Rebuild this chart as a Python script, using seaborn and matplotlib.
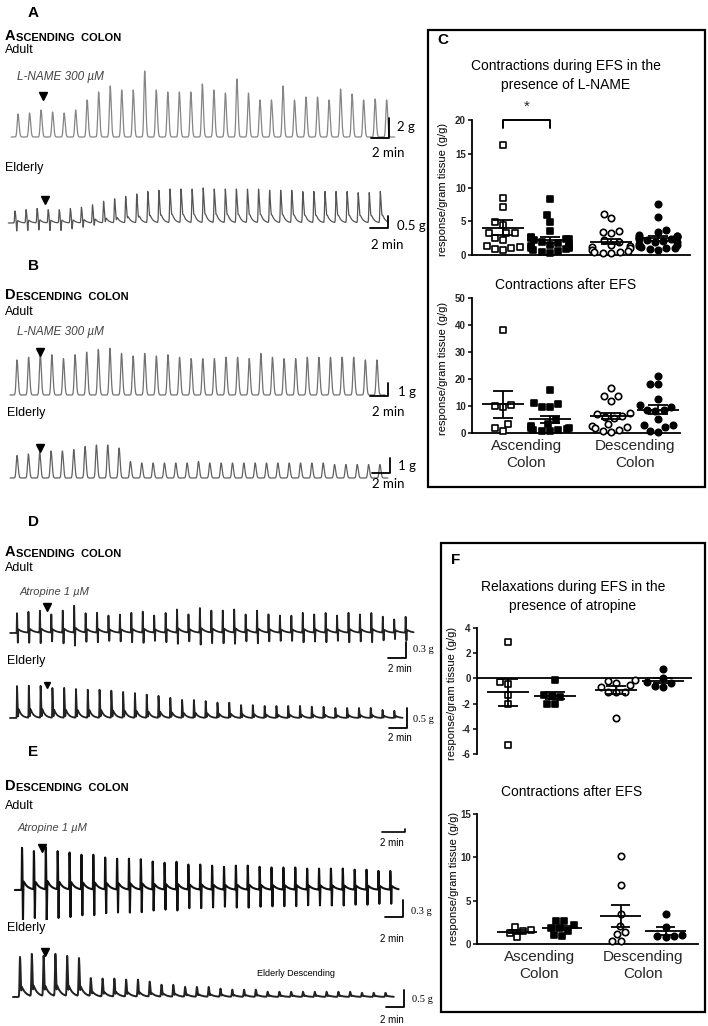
import numpy as np
import pandas as pd
import seaborn as sns
import matplotlib.pyplot as plt
from matplotlib.patches import Rectangle
from matplotlib.text import Annotation

W, H = 708, 1026
PPM = 9.0  # pixels per minute on every recording

# ---- panel C and F: response/gram tissue (g/g) ----
# order: ascending adult, ascending elderly, descending adult, descending elderly
lname_during = [
    [16.3, 8.5, 7.1, 4.9, 4.4, 3.3, 3.3, 3.3, 2.5, 2.2, 1.3, 1.2, 1.0, 0.9, 0.7],
    [8.3, 6.0, 4.9, 3.5, 2.6, 2.5, 2.4, 2.3, 2.2, 2.0, 1.8, 1.6, 1.5, 1.4, 1.2,
     1.1, 1.0, 0.9, 0.8, 0.6, 0.5, 0.3],
    [6.1, 5.5, 3.5, 3.4, 3.3, 2.2, 2.0, 1.5, 1.3, 1.2, 1.0, 0.8, 0.6, 0.5, 0.4, 0.3, 0.3],
    [7.5, 5.6, 3.7, 3.4, 2.9, 2.8, 2.8, 2.7, 2.6, 2.5, 2.4, 2.3, 2.2, 2.1, 2.0,
     1.9, 1.7, 1.5, 1.3, 1.2, 1.1, 1.0, 0.9, 0.8],
]
lname_after = [
    [38.1, 10.4, 10.0, 9.5, 3.3, 1.7, 0.9],
    [15.9, 11.0, 10.6, 9.8, 9.6, 4.8, 3.5, 2.5, 2.0, 1.8, 1.5, 1.2, 1.0, 0.8, 0.6],
    [16.5, 13.8, 13.6, 12.0, 7.3, 7.0, 6.4, 6.0, 5.4, 3.3, 2.6, 2.3, 2.0, 1.1, 0.8, 0.5],
    [21.1, 18.3, 18.1, 12.5, 10.2, 9.8, 8.6, 8.4, 8.0, 5.2, 3.0, 2.9, 2.1, 0.7, 0.5],
]
atropine_during = [
    [2.85, -0.3, -0.45, -1.35, -2.0, -5.3],
    [-0.1, -1.3, -1.4, -1.5, -2.0, -2.0],
    [-0.15, -0.2, -0.35, -0.55, -0.65, -1.05, -1.05, -1.1, -3.15],
    [0.75, 0.05, -0.3, -0.35, -0.6, -0.65],
]
atropine_after = [
    [2.0, 1.6, 1.5, 1.3, 0.8],
    [2.7, 2.6, 2.2, 1.9, 1.8, 1.5, 1.0, 0.9],
    [10.2, 6.8, 3.5, 2.1, 1.4, 1.2, 0.4, 0.35],
    [3.45, 2.0, 1.0, 0.95, 0.9, 0.8],
]
group_markers = ['s', 's', 'o', 'o']
group_filled = [False, True, False, True]
xtick_labels = ['Ascending\nColon', 'Descending\nColon']

# ---- recordings: amplitude (g) of each contraction ----
a_adult_peaks = [2.3, 2.4, 2.7, 2.5, 2.4, 2.7, 3.7, 4.5, 5.1, 4.7, 4.7, 6.6, 4.7, 4.5, 4.5,
                 4.5, 5.3, 4.7, 4.4, 5.8, 4.4, 3.7, 3.7, 5.1, 3.7, 4.0, 4.0, 3.7, 4.8, 4.3,
                 3.7, 3.8, 3.7]
a_elderly_peaks = [0.5, 0.55, 0.6, 0.55, 0.55, 0.6, 0.65, 0.75, 0.9, 1.0, 1.1, 1.2, 1.3, 1.35,
                   1.4, 1.4, 1.4, 1.45, 1.4, 1.4, 1.4, 1.4, 1.4, 1.35, 1.35, 1.35, 1.3, 1.3,
                   1.3, 1.3, 1.3, 1.25, 1.25, 1.3]
a_elderly_dips = [0.5, 0.5, 0.5, 0.5, 0.5, 0.45, 0.4, 0.35, 0.25, 0.2, 0.15, 0.15, 0.12, 0.12,
                  0.1, 0.1, 0.1, 0.1, 0.1, 0.1, 0.1, 0.1, 0.1, 0.1, 0.1, 0.1, 0.1, 0.1,
                  0.1, 0.1, 0.1, 0.1, 0.1, 0.1]
b_adult_peaks = [2.7, 2.9, 3.2, 3.1, 2.8, 3.1, 3.3, 3.5, 3.6, 3.2, 3.0, 3.2, 3.0, 3.1, 2.9,
                 2.8, 2.8, 2.8, 2.9, 2.9, 2.8, 3.2, 2.9, 2.8, 2.8, 2.9, 2.9, 2.9, 2.9, 2.9,
                 2.7, 2.7]
b_elderly_peaks = [1.5, 1.6, 1.7, 1.8, 1.8, 1.9, 2.1, 2.2, 2.2, 2.0, 1.1, 1.0, 1.0, 1.0, 1.0,
                   1.0, 1.1, 1.0, 1.0, 1.0, 1.0, 1.0, 1.0, 1.0, 1.0, 1.0, 1.0, 1.0, 0.9, 0.9,
                   0.9, 0.9, 0.9]
d_adult_peaks = [0.36, 0.38, 0.40, 0.33, 0.40, 0.49, 0.35, 0.36, 0.31, 0.33, 0.36, 0.38,
                 0.31, 0.36, 0.42, 0.33, 0.45, 0.40, 0.40, 0.42, 0.33, 0.40, 0.33, 0.31,
                 0.31, 0.36, 0.33, 0.36, 0.31, 0.36, 0.33, 0.36, 0.29, 0.24, 0.29]
d_elderly_peaks = [0.8, 0.8, 0.8, 0.75, 0.75, 0.72, 0.7, 0.7, 0.68, 0.65, 0.62, 0.58, 0.55,
                   0.5, 0.45, 0.45, 0.42, 0.38, 0.38, 0.32, 0.32, 0.3, 0.3, 0.3, 0.3, 0.28,
                   0.28, 0.25, 0.25, 0.25, 0.25, 0.2, 0.18]
e_adult_peaks = [0.74, 0.67, 0.74, 0.67, 0.65, 0.61, 0.61, 0.56, 0.54, 0.54, 0.53, 0.49,
                 0.47, 0.49, 0.44, 0.44, 0.42, 0.40, 0.42, 0.42, 0.40, 0.39, 0.39, 0.39,
                 0.37, 0.37, 0.37, 0.37, 0.35, 0.35, 0.33, 0.33]
e_elderly_peaks = [1.18, 1.24, 1.18, 1.24, 1.18, 1.12, 0.53, 0.53, 0.53, 0.5, 0.5, 0.44,
                   0.35, 0.35, 0.29, 0.29, 0.29, 0.24, 0.21, 0.21, 0.21, 0.15, 0.15, 0.15,
                   0.15, 0.15, 0.15, 0.15, 0.15, 0.12, 0.12, 0.12]

sns.set_theme(style='white')
plt.rcParams['font.family'] = ['Liberation Sans', 'DejaVu Sans']
plt.rcParams['axes.linewidth'] = 1.3

fig = plt.figure(figsize=(W / 100, H / 100), dpi=100)


def fx(x):
    return x / W


def fy(y):
    return 1 - y / H


def label(x, y, s, **kw):
    kw.setdefault('va', 'center')
    kw.setdefault('color', 'black')
    return fig.text(fx(x), fy(y), s, **kw)


def smallcaps(x, y, first, rest):
    # large initial capital followed by smaller capitals
    t = label(x, y, first, fontsize=10.5, fontweight='bold', va='bottom')
    fig.add_artist(Annotation(rest, xy=(1, 0), xycoords=t, xytext=(0.5, 0),
                              textcoords='offset points', fontsize=8, fontweight='bold',
                              va='bottom', color='black'))


def pulse_train(peaks, period, rise, fall, tail=0.0, tau=0.3, dips=None,
                dip_lag=0.08, dip_w=0.025, n_per=200):
    peaks = np.asarray(peaks, float)
    n = len(peaks)
    dips = np.zeros(n) if dips is None else np.asarray(dips, float)
    t = np.linspace(-0.6 * period, (n - 0.3) * period, n * n_per)
    y = np.zeros_like(t)
    for i, (a, d) in enumerate(zip(peaks, dips)):
        dt = (t - i * period) / period
        pos = np.clip(dt, 0, None)
        up = np.where(dt < 0, np.exp(-(dt / rise) ** 2),
                      (1 - tail) * np.exp(-(pos / fall) ** 2) + tail * np.exp(-pos / tau))
        y += a * up - d * np.exp(-((dt - dip_lag) / dip_w) ** 2)
    return t, y


def recording(peaks, x0, base, ppg, period, shape, color, lw, dips=None,
              arrow=None, arrow_ms=6, bar=None, up=75, down=30):
    ax = fig.add_axes([fx(2), fy(base + down), 430 / W, (up + down) / H])
    ax.set_xlim((2 - x0) / PPM, (432 - x0) / PPM)
    ax.set_ylim(-down / ppg, up / ppg)
    ax.axis('off')
    t, y = pulse_train(peaks, period, dips=dips, **shape)
    sns.lineplot(x=t, y=y, ax=ax, color=color, linewidth=lw, estimator=None, sort=False)
    if arrow is not None:
        ax.plot((arrow[0] - x0) / PPM, (base - arrow[1]) / ppg, marker='v', ms=arrow_ms,
                color='black', clip_on=False)
    if bar is not None:
        xc, yc, g = bar
        tc, gc = (xc - x0) / PPM, (base - yc) / ppg
        ax.plot([tc - 2, tc, tc], [gc, gc, gc + g], color='black', lw=1.3, clip_on=False)
    return ax


smooth = dict(rise=0.1, fall=0.13)

# ---------------- A ----------------
label(28, 13, 'A', fontsize=11, fontweight='bold')
smallcaps(5, 43, 'A', 'SCENDING  COLON')
label(5, 50, 'Adult', fontsize=9)
label(17, 77, 'L-NAME 300 µM', fontsize=8.5, style='italic', color='#444444')
recording(a_adult_peaks, 18, 137, 10, 1.28, smooth, '#858585', 0.9,
          arrow=(43, 96), bar=(389, 138, 2))
label(397, 127, '2 g', fontsize=9.5, family='Lato')
label(372, 153, '2 min', fontsize=9.5, family='Lato')

label(5, 168, 'Elderly', fontsize=9)
recording(a_elderly_peaks, 15, 223, 24, 1.23,
          dict(rise=0.05, fall=0.08, tail=0.6, tau=0.25, dip_lag=0.15, dip_w=0.05),
          '#555555', 0.9, dips=a_elderly_dips, arrow=(45, 200), bar=(388, 228, 0.5))
label(397, 226, '0.5 g', fontsize=9.5, family='Lato')
label(371, 245, '2 min', fontsize=9.5, family='Lato')

# ---------------- B ----------------
label(28, 266, 'B', fontsize=11, fontweight='bold')
smallcaps(5, 302, 'D', 'ESCENDING  COLON')
label(5, 312, 'Adult', fontsize=9)
label(17, 332, 'L-NAME 300 µM', fontsize=8.5, style='italic', color='#444444')
recording(b_adult_peaks, 17, 395, 13, 1.29, smooth, '#707070', 0.9,
          arrow=(40, 352), bar=(388, 396, 1))
label(398, 392, '1 g', fontsize=9.5, family='Lato')
label(372, 412, '2 min', fontsize=9.5, family='Lato')

label(7, 413, 'Elderly', fontsize=9)
recording(b_elderly_peaks, 17, 478, 15, 1.26, smooth, '#606060', 0.9,
          arrow=(40, 448), bar=(390, 473, 1))
label(398, 466, '1 g', fontsize=9.5, family='Lato')
label(372, 484, '2 min', fontsize=9.5, family='Lato')

# ---------------- D ----------------
label(28, 522, 'D', fontsize=11, fontweight='bold')
smallcaps(5, 559, 'A', 'SCENDING  COLON')
label(5, 568, 'Adult', fontsize=9)
label(20, 592, 'Atropine 1 µM', fontsize=8, style='italic', color='#444444')
d_adult_dips = [0.7 * p for p in d_adult_peaks]
recording(d_adult_peaks, 17, 633, 55, 1.27,
          dict(rise=0.02, fall=0.03, tail=0.25, tau=0.4, dip_lag=0.07, dip_w=0.025),
          '#222222', 1.3, dips=d_adult_dips, arrow=(47, 607), bar=(406, 658, 0.3))
label(413, 649, '0.3 g', fontsize=7.5, family='Liberation Serif')
label(388, 669, '2 min', fontsize=7)

label(7, 661, 'Elderly', fontsize=9)
d_elderly_dips = [0.3 * p for p in d_elderly_peaks]
recording(d_elderly_peaks, 17, 718, 40, 1.31,
          dict(rise=0.02, fall=0.04, tail=0.5, tau=0.25, dip_lag=0.09, dip_w=0.03),
          '#222222', 1.3, dips=d_elderly_dips, arrow=(47, 685), arrow_ms=4.5,
          bar=(407, 728, 0.5))
label(413, 720, '0.5 g', fontsize=7.5, family='Liberation Serif')
label(388, 738, '2 min', fontsize=7)

# ---------------- E ----------------
label(28, 752, 'E', fontsize=11, fontweight='bold')
smallcaps(5, 793, 'D', 'ESCENDING  COLON')
label(5, 806, 'Adult', fontsize=9)
label(18, 828, 'Atropine 1 µM', fontsize=8, style='italic', color='#444444')
e_adult_dips = [1.0 * p for p in e_adult_peaks]
ax_e = recording(e_adult_peaks, 22, 890, 57, 1.32,
                 dict(rise=0.02, fall=0.04, tail=0.3, tau=0.35, dip_lag=0.08, dip_w=0.025),
                 '#111111', 1.5, dips=e_adult_dips, arrow=(42, 848), bar=(403, 917, 0.3))
ax_e.plot([(382 - 22) / PPM, (405 - 22) / PPM, (405 - 22) / PPM],
          [(890 - 832) / 57, (890 - 832) / 57, (890 - 829) / 57],
          color='black', lw=1.2, clip_on=False)
label(380, 843, '2 min', fontsize=7)
label(411, 912, '0.3 g', fontsize=7.5, family='Liberation Serif')
label(380, 939, '2 min', fontsize=7)

label(7, 928, 'Elderly', fontsize=9)
e_elderly_dips = [0.2 * p for p in e_elderly_peaks]
recording(e_elderly_peaks, 20, 997, 34, 1.31,
          dict(rise=0.05, fall=0.07, tail=0.4, tau=0.35, dip_lag=0.1, dip_w=0.03),
          '#222222', 1.4, dips=e_elderly_dips, arrow=(45, 952), bar=(404, 1007, 0.5))
label(257, 973, 'Elderly Descending', fontsize=6.5)
label(412, 1000, '0.5 g', fontsize=7.5, family='Liberation Serif')
label(380, 1020, '2 min', fontsize=7)


# ---------------- C and F ----------------
def dot_panel(groups, left, right, y_top, y_bot, ylim, yticks, pos0_px, unit,
              positions=(0, 1, 2.3, 3.3), zero_line=False, xlabels=True):
    ax = fig.add_axes([fx(left), fy(y_bot), (right - left) / W, (y_bot - y_top) / H])
    for vals, pos, m, filled in zip(groups, positions, group_markers, group_filled):
        df = pd.DataFrame({'x': float(pos), 'y': vals})
        sns.swarmplot(data=df, x='x', y='y', native_scale=True, orient='x', marker=m,
                      size=4.6, color='black' if filled else 'white', edgecolor='black',
                      linewidth=1.2, ax=ax, zorder=3, clip_on=False)
        mean = np.mean(vals)
        se = np.std(vals, ddof=1) / np.sqrt(len(vals))
        ax.hlines(mean, pos - 0.45, pos + 0.45, color='black', lw=1.3, zorder=4)
        ax.hlines([mean - se, mean + se], pos - 0.21, pos + 0.21, color='black', lw=1.3, zorder=4)
        ax.vlines(pos, mean - se, mean + se, color='black', lw=1.3, zorder=4)
    ax.set_xlim((left - pos0_px) / unit, (right - pos0_px) / unit)
    ax.set_ylim(*ylim)
    ax.set_yticks(yticks)
    ax.set_yticklabels([f'{v:g}' for v in yticks], fontsize=7, fontweight='bold')
    ax.tick_params(axis='y', left=True, length=3, width=1.1, pad=1.5, color='black')
    ax.set_xlabel('')
    ax.set_ylabel('')
    ax.patch.set_alpha(0)
    sns.despine(ax=ax)
    for s in ('left', 'bottom'):
        ax.spines[s].set_color('black')
    if zero_line:
        ax.spines['bottom'].set_visible(False)
        ax.axhline(0, color='black', lw=1.3, zorder=2)
    if xlabels:
        ax.set_xticks([(positions[0] + positions[1]) / 2, (positions[2] + positions[3]) / 2])
        ax.set_xticklabels(xtick_labels, fontsize=11, linespacing=1.35)
        ax.tick_params(axis='x', length=0, pad=4)
    else:
        ax.set_xticks([])
    return ax


# panel C
fig.add_artist(Rectangle((fx(428), fy(487)), (705 - 428) / W, (487 - 30) / H,
                         transform=fig.transFigure, fill=False, lw=1.6, color='black'))
label(443, 40, 'C', fontsize=11, fontweight='bold', ha='center')
label(566, 66, 'Contractions during EFS in the', fontsize=10, ha='center')
label(566, 85, 'presence of L-NAME', fontsize=10, ha='center')
ax_c1 = dot_panel(lname_during, 472, 690, 120, 255, (0, 20), [0, 5, 10, 15, 20], 503, 47,
                  xlabels=False)
ax_c1.plot([0, 0, 1, 1], [18.8, 20, 20, 18.8], color='black', lw=1.4, clip_on=False)
ax_c1.text(0.5, 20.9, '*', ha='center', va='bottom', fontsize=11)
label(443, 189, 'response/gram tissue (g/g)', fontsize=8, rotation=90, ha='center')

label(566, 285, 'Contractions after EFS', fontsize=10, ha='center')
dot_panel(lname_after, 472, 680, 298, 433, (0, 50), [0, 10, 20, 30, 40, 50], 503, 47)
label(443, 368, 'response/gram tissue (g/g)', fontsize=8, rotation=90, ha='center')

# panel F
fig.add_artist(Rectangle((fx(441), fy(1012)), (705 - 441) / W, (1012 - 543) / H,
                         transform=fig.transFigure, fill=False, lw=1.6, color='black'))
label(456, 560, 'F', fontsize=11, fontweight='bold', ha='center')
label(573, 587, 'Relaxations during EFS in the', fontsize=10, ha='center')
label(573, 606, 'presence of atropine', fontsize=10, ha='center')
dot_panel(atropine_during, 477, 692, 628, 754, (-6, 4), [-6, -4, -2, 0, 2, 4], 508, 47,
          zero_line=True, xlabels=False)
label(452, 693, 'response/gram tissue (g/g)', fontsize=8, rotation=90, ha='center')

label(572, 792, 'Contractions after EFS', fontsize=10, ha='center')
dot_panel(atropine_after, 477, 698, 814, 944, (0, 15), [0, 5, 10, 15], 517, 45)
label(454, 878, 'response/gram tissue (g/g)', fontsize=8, rotation=90, ha='center')

fig.savefig('out.png', dpi=100)
